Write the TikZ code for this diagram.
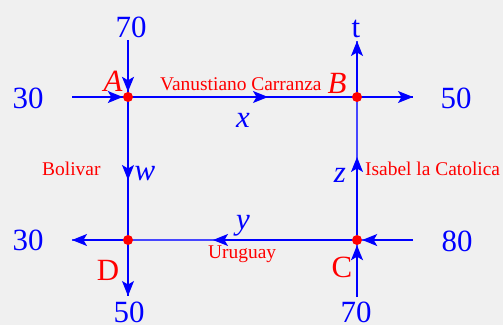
\documentclass[tikz,border=0pt]{standalone}
\usepackage{fontspec}
\setmainfont{Liberation Serif}
\usetikzlibrary{arrows.meta}
\definecolor{bg}{RGB}{240,240,240}
\definecolor{lb}{RGB}{70,70,255}
\begin{document}
\begin{tikzpicture}[x=1bp,y=-1bp,
  arr/.style={-{Stealth[length=15bp,width=12bp,inset=3.5bp]}},
  ln/.style={draw=blue,line width=1.3bp},
  lnl/.style={draw=lb,line width=1.3bp},
  num/.style={text=blue,font=\fontsize{31}{31}\selectfont,inner sep=0,anchor=base},
  var/.style={text=blue,font=\fontsize{31}{31}\selectfont\itshape,inner sep=0,anchor=base},
  lbl/.style={text=red,font=\fontsize{31}{31}\selectfont,inner sep=0,anchor=base},
  street/.style={text=red,font=\fontsize{19.5}{19.5}\selectfont,inner sep=0,anchor=base west},
  pt/.style={circle,fill=red,inner sep=0,minimum size=10bp},
  ]
\fill[bg] (0,0) rectangle (503,325);
\useasboundingbox (0,0) rectangle (503,325);
% intersections
\coordinate (pA) at (128,97);
\coordinate (pB) at (357,97);
\coordinate (pC) at (357,240);
\coordinate (pD) at (128,240);
% free ends
\coordinate (aL) at (72,97);
\coordinate (bR) at (413,97);
\coordinate (aT) at (128,40);
\coordinate (bT) at (357,41);
\coordinate (dL) at (72,240);
\coordinate (cR) at (413,240);
\coordinate (dB) at (128,296);
\coordinate (cB) at (357,297);
\coordinate (xm) at (268,97);
\coordinate (wm) at (128,180);
\coordinate (zm) at (357,157);
\coordinate (ym) at (213,240);
% lines
\draw[ln] (aL) -- (bR);
\draw[ln] (aT) -- (dB);
\draw[lnl] (bT) -- (cB);
\draw[lnl] (dL) -- (cR);
% dots
\node[pt] (A) at (pA) {};
\node[pt] (B) at (pB) {};
\node[pt] (C) at (pC) {};
\node[pt] (D) at (pD) {};
% arrows
\draw[ln,arr] (aL) -- (A);
\draw[ln,arr] (A) -- (xm);
\draw[ln,arr] (B) -- (bR);
\draw[ln,arr] (aT) -- (A);
\draw[ln,arr] (A) -- (wm);
\draw[ln,arr] (D) -- (dB);
\draw[ln,arr] (B) -- (bT);
\draw[ln,arr] (C) -- (zm);
\draw[ln,arr] (cB) -- (C);
\draw[ln,arr] (cR) -- (C);
\draw[ln,arr] (C) -- (ym);
\draw[ln,arr] (D) -- (dL);
% numbers
\node[num] (n70t) at (131,37) {70};
\node[num] (n30a) at (28,108) {30};
\node[num] (n50r) at (456,108) {50};
\node[num] (nt) at (356,37) {t};
\node[num] (n30d) at (28,250) {30};
\node[num] (n80) at (457,251) {80};
\node[num] (n50b) at (129,322) {50};
\node[num] (n70b) at (356,322) {70};
% point labels
\node[lbl,font=\fontsize{31}{31}\selectfont\itshape] (lA) at (113,91) {A};
\node[lbl,font=\fontsize{31}{31}\selectfont\itshape] (lB) at (337,93) {B};
\node[lbl] (lD) at (108,280) {D};
\node[lbl] (lC) at (342,277) {C};
% variables
\node[var] (vx) at (243,127) {x};
\node[var] (vw) at (145,180) {w};
\node[var] (vz) at (340,182) {z};
\node[var] (vy) at (243,229) {y};
% streets
\node[street] (s1) at (160,90) {Vanustiano Carranza};
\node[street] (s2) at (42,175) {Bolivar};
\node[street] (s3) at (365,175) {Isabel la Catolica};
\node[street] (s4) at (208,258) {Uruguay};
\end{tikzpicture}
\end{document}
